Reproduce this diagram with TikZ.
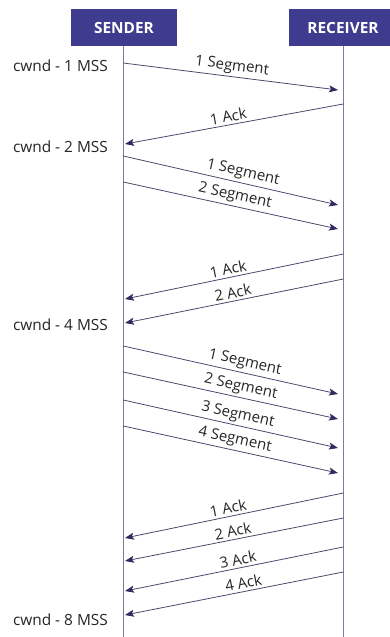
\documentclass[tikz,border=0pt]{standalone}
\usepackage{fontspec}
\setmainfont{Open Sans}
\usetikzlibrary{arrows.meta}
\definecolor{boxc}{HTML}{3F3B8F}
\definecolor{linec}{HTML}{4B4A6E}
\definecolor{tipc}{HTML}{2F2B5E}
\definecolor{lifec}{HTML}{7E7C9E}
\tikzset{
  actor/.style={fill=boxc, text=white, font=\fontsize{15.4}{17}\selectfont\bfseries, minimum width=106pt, minimum height=37pt, inner sep=0pt},
  lifeline/.style={draw=lifec, line width=0.9pt},
  msg/.style={draw=linec, line width=0.8pt, -{Stealth[length=9pt,width=7pt,inset=2pt,color=tipc,fill=tipc]}},
  lbl/.style={sloped, above, font=\fontsize{15}{17}\selectfont, text=black!85, inner sep=2.5pt},
  cw/.style={anchor=east, font=\fontsize{15.4}{17}\selectfont, text=black!85, inner sep=0pt}
}
\begin{document}
\begin{tikzpicture}[x=1pt,y=-1pt]
\clip (0,0) rectangle (390,637);
\fill[white] (0,0) rectangle (390,637);
\node[actor] (snd) at (124,27.5) {SENDER};
\node[actor, minimum width=108pt] (rcv) at (343,27.5) {RECEIVER};
\coordinate (sb) at (123.3,640);
\coordinate (rb) at (343.3,640);
\draw[lifeline] (snd.south -| sb) -- (sb);
\draw[lifeline] (rcv.south -| rb) -- (rb);
% cwnd labels
\node[cw] (c1) at (108,66) {cwnd - 1 MSS};
\node[cw] (c2) at (108,147) {cwnd - 2 MSS};
\node[cw] (c4) at (108,325) {cwnd - 4 MSS};
\node[cw] (c8) at (108,620) {cwnd - 8 MSS};
% coordinates on lifelines
\foreach \n/\y in {a/63,b/156,c/182,d/346,e/372,f/400,g/426}{
  \coordinate (s\n) at (123.3,\y);}
\foreach \n/\y in {a/90,b/205,c/229,d/394,e/419,f/448,g/473}{
  \coordinate (r\n) at (338,\y);}
\foreach \n/\y in {a/104,b/254,c/279,d/493,e/518,f/547,g/572}{
  \coordinate (q\n) at (343.3,\y);}
\foreach \n/\y in {a/144,b/299,c/323,d/538,e/561,f/591,g/615}{
  \coordinate (p\n) at (125,\y);}
% segments
\draw[msg] (sa) -- node[lbl, pos=0.5] {1 Segment} (ra);
\draw[msg] (sb) -- node[lbl, pos=0.547] {1 Segment} (rb);
\draw[msg] (sc) -- node[lbl, pos=0.51] {2 Segment} (rc);
\draw[msg] (sd) -- node[lbl, pos=0.556] {1 Segment} (rd);
\draw[msg] (se) -- node[lbl, pos=0.537] {2 Segment} (re);
\draw[msg] (sf) -- node[lbl, pos=0.523] {3 Segment} (rf);
\draw[msg] (sg) -- node[lbl, pos=0.51] {4 Segment} (rg);
% acks
\draw[msg] (qa) -- node[lbl, pos=0.52] {1 Ack} (pa);
\draw[msg] (qb) -- node[lbl, pos=0.52] {1 Ack} (pb);
\draw[msg] (qc) -- node[lbl, pos=0.498] {2 Ack} (pc);
\draw[msg] (qd) -- node[lbl, pos=0.52] {1 Ack} (pd);
\draw[msg] (qe) -- node[lbl, pos=0.498] {2 Ack} (pe);
\draw[msg] (qf) -- node[lbl, pos=0.475] {3 Ack} (pf);
\draw[msg] (qg) -- node[lbl, pos=0.45] {4 Ack} (pg);
\end{tikzpicture}
\end{document}
